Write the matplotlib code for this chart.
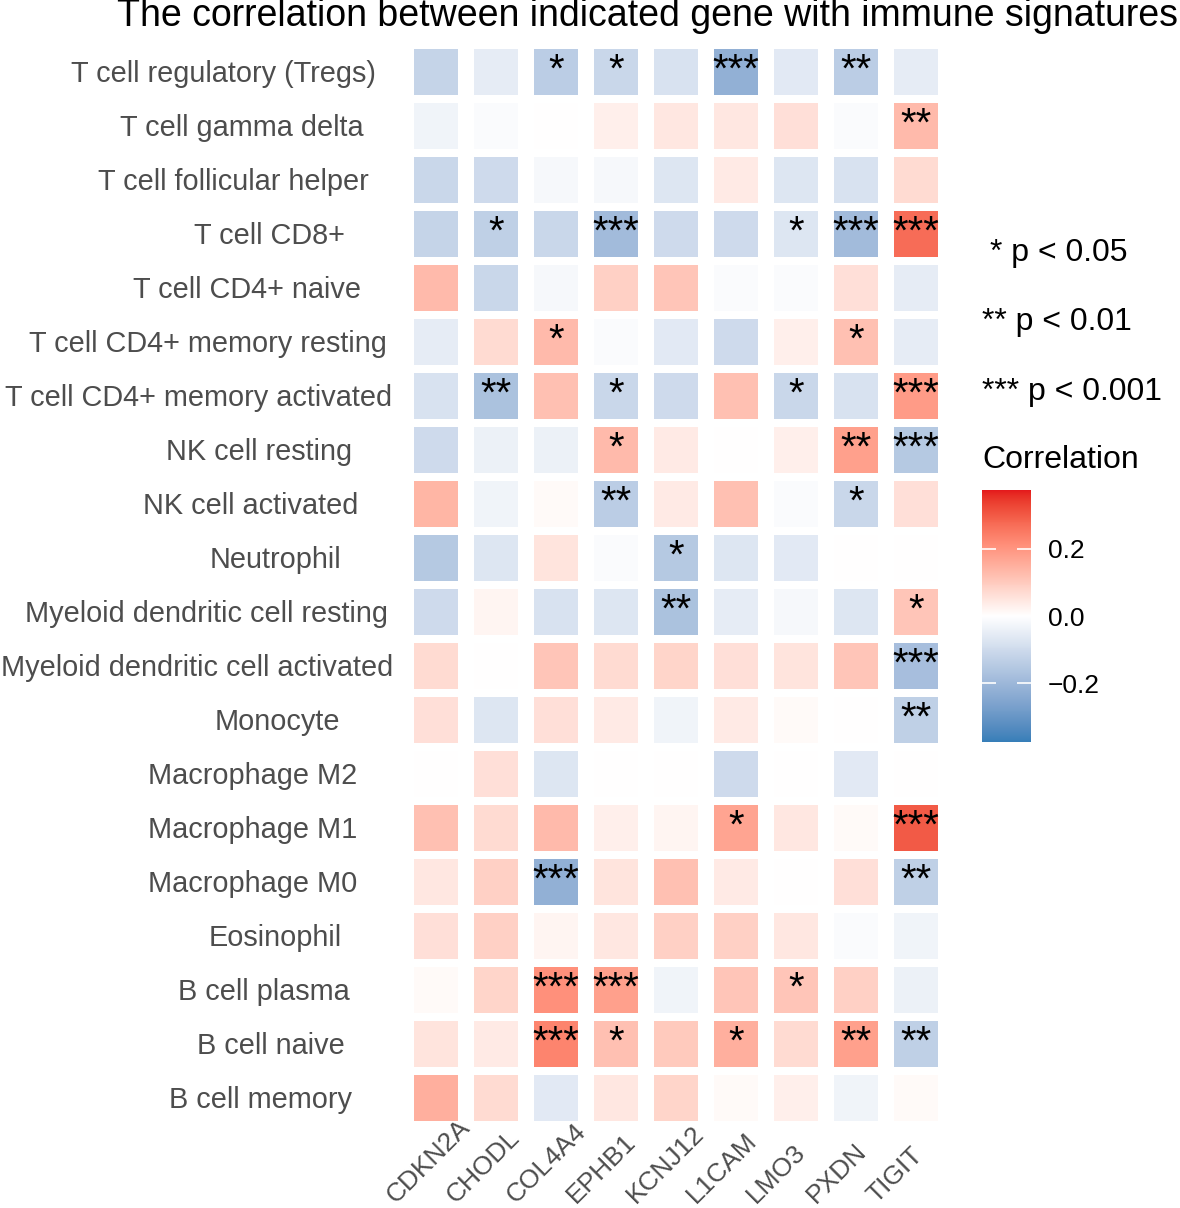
import numpy as np
import matplotlib
matplotlib.use('Agg')
import matplotlib.pyplot as plt
import matplotlib.transforms as mtransforms
from matplotlib.colors import ListedColormap, Normalize, to_rgb
from matplotlib.patches import Rectangle
from matplotlib.cm import ScalarMappable

plt.rcParams['font.family'] = ['Liberation Sans', 'DejaVu Sans']

# immune signatures (top to bottom) and genes (left to right)
cells = ['T cell regulatory (Tregs)', 'T cell gamma delta', 'T cell follicular helper',
         'T cell CD8+', 'T cell CD4+ naive', 'T cell CD4+ memory resting',
         'T cell CD4+ memory activated', 'NK cell resting', 'NK cell activated',
         'Neutrophil', 'Myeloid dendritic cell resting', 'Myeloid dendritic cell activated',
         'Monocyte', 'Macrophage M2', 'Macrophage M1', 'Macrophage M0', 'Eosinophil',
         'B cell plasma', 'B cell naive', 'B cell memory']
genes = ['CDKN2A', 'CHODL', 'COL4A4', 'EPHB1', 'KCNJ12', 'L1CAM', 'LMO3', 'PXDN', 'TIGIT']

# correlation values (rows = cells, cols = genes)
corr = np.array([
    [-0.12, -0.05, -0.14, -0.11, -0.08, -0.22, -0.06, -0.14, -0.05],
    [-0.03, -0.01,  0.00,  0.03, 0.045, 0.045,  0.06, -0.01,  0.13],
    [-0.11, -0.10, -0.02, -0.02, -0.07,  0.04, -0.07, -0.08,  0.07],
    [-0.12, -0.13, -0.11, -0.19, -0.10, -0.10, -0.07, -0.19,  0.27],
    [ 0.13, -0.11, -0.02,  0.09,  0.11, -0.01, -0.01,  0.06, -0.05],
    [-0.05,  0.07,  0.13, -0.01, -0.06, -0.10,  0.03,  0.12, -0.05],
    [-0.08, -0.17,  0.12, -0.11, -0.10,  0.12, -0.11, -0.08,  0.19],
    [-0.10, -0.04, -0.04,  0.13,  0.04,  0.00,  0.03,  0.18, -0.15],
    [ 0.14, -0.03,  0.01, -0.14,  0.04,  0.12, -0.01, -0.11,  0.06],
    [-0.15, -0.07,  0.05, -0.01, -0.15, -0.07, -0.06,  0.00,  0.00],
    [-0.10,  0.02, -0.08, -0.07, -0.17, -0.05, -0.02, -0.07,  0.11],
    [ 0.07,  0.00,  0.11,  0.07,  0.08,  0.06,  0.05,  0.11, -0.18],
    [ 0.06, -0.07,  0.06,  0.04, -0.03,  0.04,  0.01,  0.00, -0.13],
    [ 0.00,  0.06, -0.07,  0.00,  0.00, -0.10,  0.00, -0.06,  0.00],
    [ 0.12,  0.07,  0.13,  0.03,  0.02,  0.17, 0.045,  0.01,  0.30],
    [0.045,  0.09, -0.22,  0.05,  0.12,  0.04,  0.00,  0.06, -0.13],
    [ 0.06,  0.09,  0.02, 0.045,  0.09,  0.09, 0.045, -0.01, -0.03],
    [ 0.01,  0.08,  0.21,  0.18, -0.03,  0.11,  0.11,  0.09, -0.04],
    [ 0.05,  0.04,  0.23,  0.12,  0.10,  0.15,  0.07,  0.18, -0.13],
    [ 0.15,  0.07, -0.06, 0.045,  0.08,  0.01,  0.03, -0.03,  0.01],
])

# significance marks
stars = [
    ['', '', '*', '*', '', '***', '', '**', ''],
    ['', '', '', '', '', '', '', '', '**'],
    ['', '', '', '', '', '', '', '', ''],
    ['', '*', '', '***', '', '', '*', '***', '***'],
    ['', '', '', '', '', '', '', '', ''],
    ['', '', '*', '', '', '', '', '*', ''],
    ['', '**', '', '*', '', '', '*', '', '***'],
    ['', '', '', '*', '', '', '', '**', '***'],
    ['', '', '', '**', '', '', '', '*', ''],
    ['', '', '', '', '*', '', '', '', ''],
    ['', '', '', '', '**', '', '', '', '*'],
    ['', '', '', '', '', '', '', '', '***'],
    ['', '', '', '', '', '', '', '', '**'],
    ['', '', '', '', '', '', '', '', ''],
    ['', '', '', '', '', '*', '', '', '***'],
    ['', '', '***', '', '', '', '', '', '**'],
    ['', '', '', '', '', '', '', '', ''],
    ['', '', '***', '***', '', '', '*', '', ''],
    ['', '', '***', '*', '', '*', '', '**', '**'],
    ['', '', '', '', '', '', '', '', ''],
]


# diverging gradient interpolated in Lab space (like ggplot's gradient2)
def srgb_to_lab(c):
    c = np.asarray(c, dtype=float)
    lin = np.where(c <= 0.04045, c / 12.92, ((c + 0.055) / 1.055) ** 2.4)
    m = np.array([[0.4124, 0.3576, 0.1805], [0.2126, 0.7152, 0.0722], [0.0193, 0.1192, 0.9505]])
    xyz = m @ lin / np.array([0.95047, 1.0, 1.08883])
    f = np.where(xyz > 0.008856, np.cbrt(xyz), 7.787 * xyz + 16 / 116)
    return np.array([116 * f[1] - 16, 500 * (f[0] - f[1]), 200 * (f[1] - f[2])])


def lab_to_srgb(lab):
    fy = (lab[0] + 16) / 116
    fx = fy + lab[1] / 500
    fz = fy - lab[2] / 200
    f = np.array([fx, fy, fz])
    xyz = np.where(f ** 3 > 0.008856, f ** 3, (f - 16 / 116) / 7.787) * np.array([0.95047, 1.0, 1.08883])
    mi = np.array([[3.2406, -1.5372, -0.4986], [-0.9689, 1.8758, 0.0415], [0.0557, -0.2040, 1.0570]])
    lin = mi @ xyz
    c = np.where(lin <= 0.0031308, 12.92 * lin, 1.055 * np.clip(lin, 0, None) ** (1 / 2.4) - 0.055)
    return np.clip(c, 0, 1)


low, mid, high = [srgb_to_lab(to_rgb(c)) for c in ('#377EB8', '#FFFFFF', '#E41A1C')]
cols = []
for t in np.linspace(0, 1, 256):
    if t < 0.5:
        lab = low + (mid - low) * (t / 0.5)
    else:
        lab = mid + (high - mid) * ((t - 0.5) / 0.5)
    cols.append(lab_to_srgb(lab))
cmap = ListedColormap(cols)
norm = Normalize(vmin=-0.375, vmax=0.375)

W, H = 1180, 1208
fig = plt.figure(figsize=(W / 100, H / 100), dpi=100)
renderer = fig.canvas.get_renderer()

# main heatmap axes (pixel box: x 406-946, y 45-1125)
ax = fig.add_axes([406 / W, (H - 1125) / H, 540 / W, 1080 / H])
tw, th = 0.72, 0.87
for i in range(len(cells)):
    for j in range(len(genes)):
        ax.add_patch(Rectangle((j - tw / 2, i - th / 2), tw, th,
                               facecolor=cmap(norm(corr[i, j])), edgecolor='none'))
        if stars[i][j]:
            ax.text(j, i - 0.025, stars[i][j], ha='center', va='center', fontsize=29, color='black')

ax.set_xlim(-0.5, len(genes) - 0.5)
ax.set_ylim(len(cells) - 0.5, -0.5)
ax.set_xticks([])
ax.set_yticks([])
for s in ax.spines.values():
    s.set_visible(False)

# row labels: placed like the original (left edge = 315 - 0.8 * width)
ytrans = mtransforms.blended_transform_factory(fig.transFigure, ax.transData)
for i, name in enumerate(cells):
    t = ax.text(0, i + 0.037, name, ha='left', va='center', fontsize=20.8, color='#4D4D4D',
                transform=ytrans, clip_on=False)
    w = t.get_window_extent(renderer).width
    t.set_x((315 - 0.8 * w) / W)

# column labels, rotated, starting below-left of each column
xtrans = mtransforms.blended_transform_factory(ax.transData, fig.transFigure) + \
    mtransforms.ScaledTranslation(-40 / 100, 0, fig.dpi_scale_trans)
for j, g in enumerate(genes):
    ax.text(j, 4 / H, g, rotation=45, rotation_mode='anchor', ha='left', va='baseline',
            fontsize=19, color='#4D4D4D', transform=xtrans, clip_on=False)

fig.text(1178 / W, 1 - 16 / H, 'The correlation between indicated gene with immune signatures',
         ha='right', va='center', fontsize=27)

# significance legend
fig.text(990 / W, 1 - 253 / H, '* p < 0.05', ha='left', va='center', fontsize=23)
fig.text(982 / W, 1 - 322 / H, '** p < 0.01', ha='left', va='center', fontsize=23)
fig.text(982 / W, 1 - 392 / H, '*** p < 0.001', ha='left', va='center', fontsize=23)
fig.text(982 / W, 1 - 460 / H, 'Correlation', ha='left', va='center', fontsize=23)

# colorbar
cax = fig.add_axes([982 / W, (H - 742) / H, 49 / W, 252 / H])
cb = fig.colorbar(ScalarMappable(norm=norm, cmap=cmap), cax=cax, ticks=[-0.2, 0.0, 0.2])
cb.outline.set_visible(False)
cb.ax.set_yticklabels(['\u22120.2', '0.0', '0.2'], fontsize=19)
cb.ax.tick_params(direction='in', color='white', length=10, width=1.2, left=True, right=True, pad=12)

fig.savefig('out.png', dpi=100)
